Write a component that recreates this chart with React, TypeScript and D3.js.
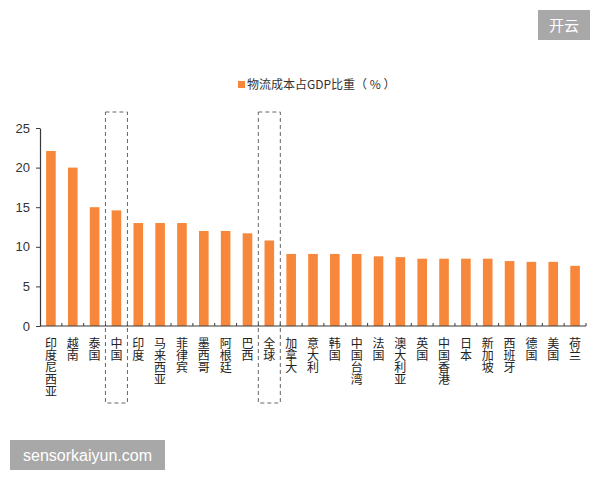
import React, { useRef, useEffect } from 'react';
import * as d3 from 'd3';

const regions = ['印度尼西亚', '越南', '泰国', '中国', '印度', '马来西亚', '菲律宾', '墨西哥', '阿根廷', '巴西', '全球', '加拿大', '意大利', '韩国', '中国台湾', '法国', '澳大利亚', '英国', '中国香港', '日本', '新加坡', '西班牙', '德国', '美国', '荷兰'];
const logisticsShare = [22.1, 20.0, 15.0, 14.6, 13.0, 13.0, 13.0, 12.0, 12.0, 11.7, 10.8, 9.1, 9.1, 9.1, 9.1, 8.8, 8.7, 8.5, 8.5, 8.5, 8.5, 8.2, 8.1, 8.1, 7.6];
const yTicks = [0, 5, 10, 15, 20, 25];
const highlighted = ['中国', '全球'];
const legendLabel = '物流成本占GDP比重（ % ）';

export default function App() {
    const svgRef = useRef(null);
    const width = 600, height = 480;

    useEffect(() => {
        const svg = d3.select(svgRef.current);
        svg.selectAll('*').remove();

        const data = regions.map((r, i) => ({ name: r, value: logisticsShare[i] }));

        const x = d3.scaleBand()
            .domain(regions)
            .range([40, 586])
            .paddingInner(0.56)
            .paddingOuter(0.28);

        const y = d3.scaleLinear()
            .domain([0, 25])
            .range([326, 128]);

        const cjk = '"Noto Sans CJK SC", "Noto Sans", sans-serif';
        const axisColor = '#3a3a3a';

        // bars
        svg.append('g')
            .selectAll('rect')
            .data(data)
            .join('rect')
            .attr('x', d => x(d.name))
            .attr('width', x.bandwidth())
            .attr('y', d => y(d.value))
            .attr('height', d => y(0) - y(d.value))
            .attr('fill', '#F7883B');

        // y axis
        svg.append('g')
            .attr('transform', 'translate(40,0)')
            .call(d3.axisLeft(y).tickValues(yTicks).tickSize(4).tickSizeOuter(0).tickPadding(6))
            .call(g => g.select('.domain').attr('stroke', axisColor).attr('stroke-width', 1.2))
            .call(g => g.selectAll('.tick line').attr('stroke', axisColor))
            .call(g => g.selectAll('.tick text')
                .attr('fill', '#333')
                .attr('font-size', 13)
                .attr('font-family', '"Liberation Sans", Arial, sans-serif'));

        // x axis line with ticks between categories
        const step = x.step();
        svg.append('line')
            .attr('x1', 40).attr('x2', 586)
            .attr('y1', y(0)).attr('y2', y(0))
            .attr('stroke', axisColor).attr('stroke-width', 1.2);
        svg.append('g')
            .selectAll('line')
            .data(regions)
            .join('line')
            .attr('x1', d => x(d) + x.bandwidth() + (step - x.bandwidth()) / 2)
            .attr('x2', d => x(d) + x.bandwidth() + (step - x.bandwidth()) / 2)
            .attr('y1', y(0)).attr('y2', y(0) - 3)
            .attr('stroke', axisColor);

        // vertical category labels, upright stacked characters
        svg.append('g')
            .attr('font-family', cjk)
            .attr('font-size', 12)
            .attr('fill', '#222')
            .selectAll('text')
            .data(regions)
            .join('text')
            .attr('x', d => x(d) + x.bandwidth() / 2)
            .attr('y', 337)
            .style('writing-mode', 'vertical-rl')
            .style('text-orientation', 'upright')
            .text(d => d);

        // dashed highlight boxes
        svg.append('g')
            .selectAll('rect')
            .data(highlighted)
            .join('rect')
            .attr('x', d => x(d) + x.bandwidth() / 2 - 11)
            .attr('width', 22)
            .attr('y', 112)
            .attr('height', 291)
            .attr('fill', 'none')
            .attr('stroke', '#666')
            .attr('stroke-width', 1)
            .attr('stroke-dasharray', '4,3');

        // legend
        svg.append('rect')
            .attr('x', 238).attr('y', 81)
            .attr('width', 7).attr('height', 7)
            .attr('fill', '#F7883B');
        svg.append('text')
            .attr('x', 247).attr('y', 89)
            .attr('font-family', cjk)
            .attr('font-size', 12)
            .attr('fill', '#333')
            .text(legendLabel);

        // watermarks
        svg.append('rect')
            .attr('x', 538).attr('y', 10).attr('width', 52).attr('height', 30)
            .attr('fill', '#a8a8a8');
        svg.append('text')
            .attr('x', 564).attr('y', 31)
            .attr('text-anchor', 'middle')
            .attr('font-family', cjk)
            .attr('font-size', 15)
            .attr('fill', '#fff')
            .text('开云');
        svg.append('rect')
            .attr('x', 10).attr('y', 440).attr('width', 155).attr('height', 30)
            .attr('fill', '#a8a8a8');
        svg.append('text')
            .attr('x', 87.5).attr('y', 461)
            .attr('text-anchor', 'middle')
            .attr('font-family', '"Liberation Sans", Arial, sans-serif')
            .attr('font-size', 16)
            .attr('fill', '#fff')
            .text('sensorkaiyun.com');
    }, []);

    return (
        <svg ref={svgRef} width={width} height={height}
            style={{ position: 'absolute', left: 0, top: 0, background: '#fff' }} />
    );
}
